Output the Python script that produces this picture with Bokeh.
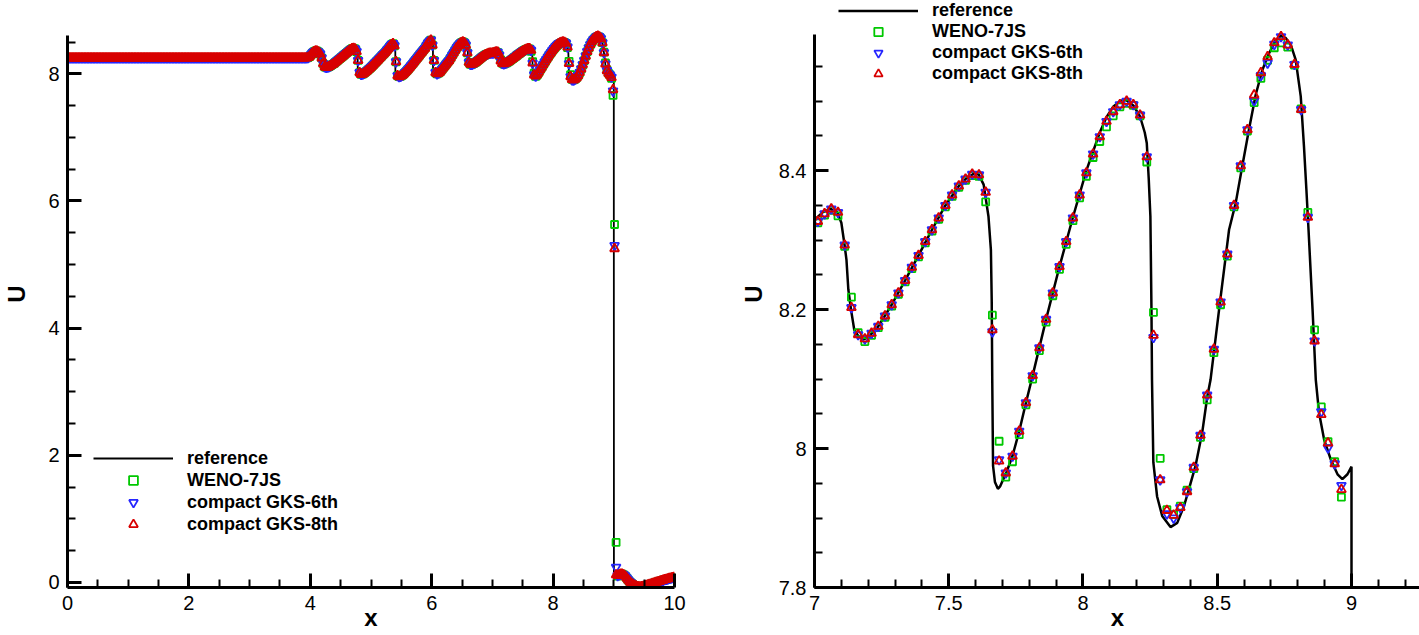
import numpy as np
from bokeh.plotting import figure
from bokeh.models import (ColumnDataSource, Range1d, FixedTicker, CustomJSTickFormatter,
                          Legend, LegendItem)
from bokeh.layouts import row
from bokeh.embed import file_html
from bokeh.resources import INLINE

# ---------------- data ----------------
# cell centres of the uniform 400-cell grid on [0, 10]
cell_x = np.round(np.arange(0.0125, 10.0, 0.025), 4)

# x < 3.9: flat post-shock state, identical for all schemes
U_FLAT = [8.25] * 156

# 3.9125 .. 6.9875 (all three schemes coincide at this scale)
U_LEFT_WAVES = [
    8.25, 8.25, 8.255, 8.27, 8.30, 8.33, 8.35, 8.36, 8.355, 8.34, 8.31, 8.25, 8.16, 8.11, 8.10,
    8.105, 8.115, 8.13, 8.145, 8.16, 8.18, 8.20, 8.22, 8.24, 8.26, 8.28, 8.30, 8.32, 8.34, 8.36,
    8.38, 8.395, 8.40, 8.39, 8.35, 8.21, 8.02, 7.99,
    7.995, 8.01, 8.03, 8.05, 8.07, 8.09, 8.115, 8.14, 8.165, 8.19, 8.215, 8.24, 8.265, 8.29,
    8.315, 8.34, 8.37, 8.40, 8.43, 8.46, 8.475, 8.44, 8.19, 7.97, 7.955,
    7.96, 7.975, 7.995, 8.02, 8.045, 8.07, 8.10, 8.13, 8.16, 8.19, 8.22, 8.25, 8.28, 8.31,
    8.34, 8.37, 8.40, 8.44, 8.48, 8.51, 8.53, 8.45, 8.21, 8.02, 8.00,
    8.01, 8.03, 8.06, 8.09, 8.12, 8.15, 8.18, 8.21, 8.25, 8.29, 8.33, 8.37, 8.41, 8.44,
    8.47, 8.49, 8.50, 8.49, 8.45, 8.33, 8.18, 8.15,
    8.15, 8.16, 8.175, 8.19, 8.21, 8.23, 8.25, 8.27, 8.285, 8.30, 8.31, 8.32, 8.325, 8.325,
]

# 7.0125 .. 8.9875
U8_RIGHT = [
    8.327, 8.338, 8.345, 8.340, 8.293, 8.203, 8.164, 8.158, 8.166, 8.176,
    8.191, 8.207, 8.224, 8.242, 8.261, 8.278, 8.298, 8.315, 8.332, 8.350,
    8.365, 8.378, 8.388, 8.395, 8.394, 8.369, 8.171, 7.982, 7.965, 7.989,
    8.025, 8.066, 8.105, 8.145, 8.186, 8.224, 8.262, 8.298, 8.332, 8.365,
    8.397, 8.424, 8.449, 8.471, 8.485, 8.495, 8.500, 8.495, 8.480, 8.420,
    8.163, 7.955, 7.911, 7.904, 7.915, 7.938, 7.973, 8.019, 8.077, 8.143,
    8.211, 8.280, 8.350, 8.407, 8.459, 8.509, 8.541, 8.564, 8.584, 8.593,
    8.581, 8.553, 8.488, 8.333, 8.155, 8.049, 8.008, 7.978, 7.941, 7.750,
]
U6_RIGHT = [
    8.327, 8.338, 8.345, 8.340, 8.293, 8.203, 8.164, 8.158, 8.166, 8.176,
    8.191, 8.207, 8.224, 8.242, 8.261, 8.278, 8.298, 8.315, 8.332, 8.350,
    8.365, 8.378, 8.388, 8.395, 8.394, 8.369, 8.168, 7.984, 7.965, 7.989,
    8.025, 8.066, 8.105, 8.145, 8.186, 8.224, 8.262, 8.298, 8.332, 8.365,
    8.397, 8.424, 8.449, 8.471, 8.485, 8.495, 8.500, 8.495, 8.480, 8.420,
    8.160, 7.955, 7.906, 7.900, 7.915, 7.938, 7.973, 8.019, 8.077, 8.143,
    8.211, 8.280, 8.350, 8.407, 8.459, 8.501, 8.537, 8.555, 8.582, 8.593,
    8.581, 8.553, 8.488, 8.333, 8.155, 8.053, 8.001, 7.978, 7.947, 7.730,
]
U7_RIGHT = [
    8.325, 8.336, 8.343, 8.335, 8.291, 8.218, 8.167, 8.154, 8.163, 8.174,
    8.189, 8.205, 8.222, 8.240, 8.259, 8.276, 8.296, 8.313, 8.330, 8.348,
    8.363, 8.376, 8.386, 8.393, 8.392, 8.355, 8.192, 8.0105, 7.959, 7.981,
    8.020, 8.063, 8.100, 8.141, 8.182, 8.220, 8.258, 8.294, 8.328, 8.361,
    8.392, 8.419, 8.442, 8.463, 8.479, 8.492, 8.497, 8.494, 8.479, 8.4125,
    8.196, 7.986, 7.912, 7.905, 7.917, 7.940, 7.971, 8.016, 8.070, 8.138,
    8.207, 8.277, 8.348, 8.404, 8.457, 8.498, 8.533, 8.559, 8.577, 8.584,
    8.578, 8.552, 8.489, 8.340, 8.171, 8.060, 8.010, 7.981, 7.930, 7.660,
]

# 9.0125 .. 9.9875 (pre-shock side)
U8_POST = [
    5.25, 0.12, 0.11, 0.12, 0.13, 0.13, 0.12, 0.10, 0.07, 0.04,
    0.01, -0.01, -0.03, -0.045, -0.055, -0.065, -0.07, -0.07, -0.065, -0.06,
    -0.05, -0.045, -0.04, -0.03, -0.025, -0.015, -0.01, 0.0, 0.005, 0.015,
    0.02, 0.03, 0.035, 0.045, 0.05, 0.055, 0.065, 0.07, 0.075, 0.08,
]
U6_POST = [
    5.30, 0.24, 0.11, 0.12, 0.13, 0.13, 0.12, 0.10, 0.07, 0.04,
    0.01, -0.01, -0.03, -0.045, -0.055, -0.065, -0.07, -0.075, -0.07, -0.065,
    -0.055, -0.05, -0.04, -0.03, -0.025, -0.015, -0.01, 0.0, 0.005, 0.015,
    0.02, 0.03, 0.035, 0.045, 0.05, 0.055, 0.065, 0.07, 0.075, 0.08,
]
U7_POST = [
    5.63, 0.63, 0.10, 0.12, 0.13, 0.13, 0.12, 0.10, 0.07, 0.04,
    0.01, -0.01, -0.03, -0.045, -0.055, -0.065, -0.07, -0.07, -0.065, -0.06,
    -0.05, -0.045, -0.04, -0.03, -0.025, -0.015, -0.01, 0.0, 0.005, 0.015,
    0.02, 0.03, 0.035, 0.045, 0.05, 0.055, 0.065, 0.07, 0.075, 0.08,
]

# reference solution (solid line)
REF_X = [
    0.0, 3.95, 4.0, 4.05, 4.1, 4.15, 4.185, 4.19, 4.23, 4.3, 4.4, 4.5, 4.6, 4.7, 4.76, 4.78,
    4.782, 4.83, 4.9, 5.0, 5.1, 5.2, 5.3, 5.37, 5.40, 5.402, 5.46, 5.55, 5.65, 5.75, 5.85,
    5.95, 5.99, 6.02, 6.022, 6.08, 6.15, 6.25, 6.35, 6.45, 6.52, 6.57, 6.595, 6.597, 6.65,
    6.75, 6.85, 6.95,
    7.0, 7.03, 7.06, 7.085, 7.1, 7.112, 7.119, 7.126, 7.136, 7.148, 7.163, 7.18, 7.2, 7.2375,
    7.2875, 7.3375, 7.3875, 7.4375, 7.4875, 7.5375, 7.5625, 7.598, 7.6125, 7.63, 7.648, 7.657,
    7.66, 7.662, 7.665, 7.672, 7.683, 7.692, 7.716, 7.737, 7.7625, 7.7875, 7.8125, 7.8625,
    7.9125, 7.9625, 8.0125, 8.0625, 8.0875, 8.1125, 8.1375, 8.152, 8.1625, 8.1875, 8.2125,
    8.23, 8.2375, 8.245, 8.251, 8.255, 8.257, 8.259, 8.262, 8.276, 8.295, 8.326, 8.351,
    8.376, 8.394, 8.419, 8.444, 8.463, 8.475, 8.51, 8.544, 8.569, 8.593, 8.618, 8.643,
    8.668, 8.693, 8.718, 8.736, 8.755, 8.774, 8.792, 8.811, 8.823, 8.832, 8.840, 8.855,
    8.867, 8.879, 8.898, 8.923, 8.948, 8.966, 8.985, 9.0,
    9.002, 9.1, 9.2, 9.3, 9.4, 9.5, 9.6, 9.7, 9.8, 9.9, 10.0,
]
REF_U = [
    8.25, 8.25, 8.29, 8.345, 8.365, 8.34, 8.30, 8.14, 8.10, 8.105, 8.17, 8.25, 8.33, 8.40,
    8.42, 8.40, 7.99, 7.985, 8.02, 8.10, 8.20, 8.30, 8.42, 8.49, 8.46, 7.95, 7.95, 8.00,
    8.11, 8.23, 8.35, 8.50, 8.54, 8.50, 8.00, 7.995, 8.04, 8.16, 8.31, 8.46, 8.505, 8.47,
    8.40, 8.14, 8.145, 8.20, 8.28, 8.32,
    8.329, 8.34, 8.345, 8.34, 8.325, 8.293, 8.272, 8.229, 8.20, 8.171, 8.162, 8.157, 8.160,
    8.176, 8.207, 8.242, 8.278, 8.315, 8.350, 8.378, 8.388, 8.397, 8.394, 8.38, 8.334, 8.286,
    8.214, 8.10, 7.975, 7.952, 7.942, 7.946, 7.967, 7.989, 8.025, 8.066, 8.105, 8.186,
    8.262, 8.333, 8.40, 8.455, 8.477, 8.492, 8.500, 8.502, 8.501, 8.494, 8.478,
    8.455, 8.44, 8.387, 8.334, 8.20, 8.099, 8.052, 7.98, 7.931, 7.903, 7.887, 7.893,
    7.917, 7.941, 7.975, 8.023, 8.075, 8.099, 8.21, 8.315, 8.354, 8.406, 8.459, 8.509,
    8.545, 8.569, 8.588, 8.594, 8.591, 8.581, 8.560, 8.507, 8.435, 8.373, 8.315, 8.20,
    8.099, 8.052, 8.013, 7.984, 7.963, 7.956, 7.963, 7.974,
    0.12, 0.13, 0.06, -0.03, -0.07, -0.055, -0.03, 0.0, 0.03, 0.06, 0.08,
]

LEGEND_LABELS = ["reference", "WENO-7JS", "compact GKS-6th", "compact GKS-8th"]

# axis ticks
L_XTICKS = [0, 2, 4, 6, 8, 10]
L_XMINOR = [0.5, 1, 1.5, 2.5, 3, 3.5, 4.5, 5, 5.5, 6.5, 7, 7.5, 8.5, 9, 9.5]
L_YTICKS = [0, 2, 4, 6, 8]
L_YMINOR = [0.5, 1, 1.5, 2.5, 3, 3.5, 4.5, 5, 5.5, 6.5, 7, 7.5, 8.5]
R_XTICKS = [7, 7.5, 8, 8.5, 9]
R_XMINOR = [7.1, 7.2, 7.3, 7.4, 7.6, 7.7, 7.8, 7.9, 8.1, 8.2, 8.3, 8.4, 8.6, 8.7, 8.8, 8.9, 9.1, 9.2]
R_YTICKS = [7.8, 8, 8.2, 8.4]
R_YMINOR = [7.85, 7.9, 7.95, 8.05, 8.1, 8.15, 8.25, 8.3, 8.35, 8.45, 8.5, 8.55]

# ---------------- assemble ----------------
u_weno = U_FLAT + U_LEFT_WAVES + U7_RIGHT + U7_POST
u_gks6 = U_FLAT + U_LEFT_WAVES + U6_RIGHT + U6_POST
u_gks8 = U_FLAT + U_LEFT_WAVES + U8_RIGHT + U8_POST
for arr in (u_weno, u_gks6, u_gks8):
    if len(arr) != len(cell_x):
        raise ValueError("length mismatch %d" % len(arr))
if len(REF_X) != len(REF_U):
    raise ValueError("ref mismatch %d %d" % (len(REF_X), len(REF_U)))

FONT = "Liberation Sans"
GREEN = "#00c800"
BLUE = "#2626ff"
RED = "#d80000"


def make_panel(xr, yr, ybounds, xt, xmt, yt, ymt, fw, fh, mbl, mbr, mbb, ref_w,
               leg_loc, leg_h, xstand, ystand):
    p = figure(frame_width=fw, frame_height=fh,
               x_range=Range1d(*xr), y_range=Range1d(*yr),
               output_backend="svg", toolbar_location=None,
               min_border_left=mbl, min_border_right=mbr,
               min_border_top=0, min_border_bottom=mbb)
    p.grid.visible = False
    p.outline_line_color = None
    p.background_fill_color = "white"
    p.border_fill_color = "white"
    for ax, ticks, minor in ((p.xaxis[0], xt, xmt), (p.yaxis[0], yt, ymt)):
        ax.ticker = FixedTicker(ticks=ticks, minor_ticks=minor)
        ax.formatter = CustomJSTickFormatter(
            code="return String(Math.round(tick*1000)/1000);")
        ax.axis_line_width = 3
        ax.axis_line_color = "black"
        ax.major_tick_in = 14
        ax.major_tick_out = 0
        ax.minor_tick_in = 8
        ax.minor_tick_out = 0
        ax.major_tick_line_width = 3
        ax.minor_tick_line_width = 2
        ax.major_tick_line_color = "black"
        ax.minor_tick_line_color = "black"
        ax.major_label_text_font = FONT
        ax.major_label_text_font_size = "20px"
        ax.major_label_text_color = "black"
        ax.major_label_standoff = 8
        ax.axis_label_text_font = FONT
        ax.axis_label_text_font_style = "bold"
        ax.axis_label_text_font_size = "24px"
        ax.axis_label_text_color = "black"
    p.xaxis[0].axis_label = "x"
    p.xaxis[0].axis_label_standoff = xstand
    p.yaxis[0].axis_label = "U"
    p.yaxis[0].axis_label_standoff = ystand
    p.yaxis[0].bounds = ybounds

    r_ref = p.line(REF_X, REF_U, line_color="black", line_width=ref_w)
    src7 = ColumnDataSource(dict(x=cell_x, u=u_weno))
    src6 = ColumnDataSource(dict(x=cell_x, u=u_gks6))
    src8 = ColumnDataSource(dict(x=cell_x, u=u_gks8))
    r7 = p.scatter("x", "u", source=src7, marker="square", size=7,
                   line_color=GREEN, fill_color=None, line_width=1.8)
    r6 = p.scatter("x", "u", source=src6, marker="inverted_triangle", size=9,
                   line_color=BLUE, fill_color=None, line_width=1.8)
    r8 = p.scatter("x", "u", source=src8, marker="triangle", size=9,
                   line_color=RED, fill_color=None, line_width=1.8)

    items = [LegendItem(label=LEGEND_LABELS[0], renderers=[r_ref]),
             LegendItem(label=LEGEND_LABELS[1], renderers=[r7]),
             LegendItem(label=LEGEND_LABELS[2], renderers=[r6]),
             LegendItem(label=LEGEND_LABELS[3], renderers=[r8])]
    leg = Legend(items=items, location=leg_loc, orientation="vertical",
                 glyph_width=80, glyph_height=leg_h, label_height=leg_h,
                 label_standoff=14, spacing=0, padding=0, margin=0,
                 border_line_color=None, background_fill_alpha=0,
                 label_text_font=FONT, label_text_font_style="bold",
                 label_text_font_size="18px", label_text_color="black")
    p.add_layout(leg)
    return p


# both frames span page y 0..587 (axes drawn only from y=35 down, via bounds)
# left frame x 66..673, right frame x 813..1419
left = make_panel((0.0, 10.0), (-0.079, 9.153), (-0.079, 8.603), L_XTICKS, L_XMINOR,
                  L_YTICKS, L_YMINOR, 607, 587, 66, 62, 48, 1.8, (26, 52), 22, -9, 15)
right = make_panel((7.0, 9.257), (7.8, 8.645), (7.8, 8.596), R_XTICKS, R_XMINOR, R_YTICKS,
                   R_YMINOR, 606, 587, 78, 0, 48, 2.5, (24, 503), 21, -9, 9)

layout = row(left, right)
open("out.html", "w").write(file_html(layout, INLINE, title="U"))
